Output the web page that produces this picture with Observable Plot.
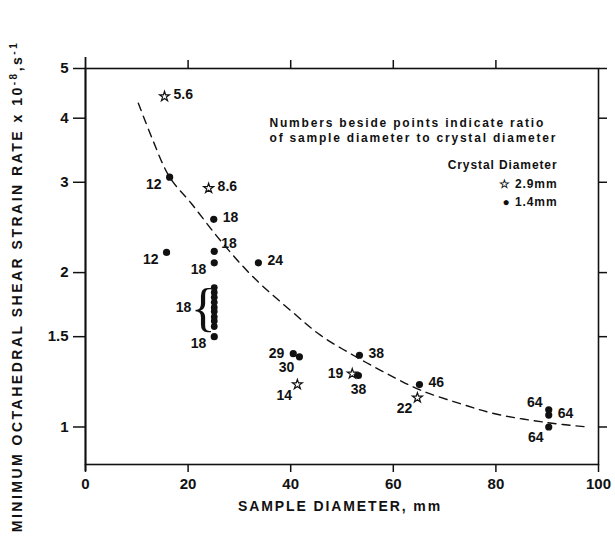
<!DOCTYPE html>
<html><head><meta charset="utf-8">
<script src="https://cdn.jsdelivr.net/npm/d3@7"></script>
<script src="https://cdn.jsdelivr.net/npm/@observablehq/plot@0.6"></script>
<style>
body{margin:0;background:#fff;}
svg{font-family:"Liberation Sans",Arial,sans-serif;}
</style>
</head><body><div id="chart"></div>
<script>
// ---- data ----
// crystal diameter 2.9 mm (open stars)
const starX = [15.4, 24.0, 41.3, 52.0, 64.7];
const starY = [4.41, 2.92, 1.21, 1.27, 1.14];
const starLabel = ["5.6", "8.6", "14", "19", "22"];
const starSide = ["r", "r", "bl", "l", "bl"];

// crystal diameter 1.4 mm (filled dots)
const dotX = [16.4, 25.0, 25.1, 15.8, 25.1, 33.7, 25.1, 40.5, 41.7, 53.4, 53.2, 65.1, 90.3, 90.3, 90.3];
const dotY = [3.07, 2.54, 2.20, 2.19, 2.09, 2.09, 1.50, 1.39, 1.37, 1.38, 1.26, 1.21, 1.08, 1.055, 1.00];
const dotLabel = ["12", "18", "18", "12", "18", "24", "18", "29", "30", "38", "38", "46", "64", "64", "64"];
const dotSide = ["lb", "r", "ru", "lb", "lb", "r", "lb", "l", "bl", "r", "b", "r", "tl", "r", "bl"];

// bracketed cluster of 1.4 mm samples (ratio 18)
const clusterX = 25.1;
const clusterY = [1.87, 1.83, 1.79, 1.75, 1.71, 1.68, 1.64, 1.61, 1.57];
const clusterLabel = "18";

// dashed fitted curve
const fitX = [10.3, 13.0, 16.4, 20.6, 26.3, 32.7, 40.5, 45.8, 52.2, 58.8, 65.3, 73.1, 80.0, 90.0, 97.9];
const fitY = [4.28, 3.65, 3.07, 2.73, 2.31, 1.96, 1.67, 1.51, 1.38, 1.27, 1.18, 1.11, 1.06, 1.02, 1.00];

// axes
const xTicks = [0, 20, 40, 60, 80, 100];
const xTopTicks = [20, 40, 60, 80];
const yTicks = [1, 1.5, 2, 3, 4, 5];
const xLabel = "SAMPLE DIAMETER, mm";
const yLabel = "MINIMUM OCTAHEDRAL SHEAR STRAIN RATE x 10-8,s-1";
const noteLines = ["Numbers beside points indicate ratio", "of sample diameter to crystal diameter"];
const legendTitle = "Crystal Diameter";
const legendItems = ["\u2606 2.9mm", "\u25CF 1.4mm"];

// ---- build tables ----
const stars = starX.map((x, i) => ({x, y: starY[i], label: starLabel[i], side: starSide[i]}));
const dots = dotX.map((x, i) => ({x, y: dotY[i], label: dotLabel[i], side: dotSide[i]}));
const cluster = clusterY.map(y => ({x: clusterX, y}));
const clusterMid = [{x: clusterX, y: Math.sqrt(d3.max(clusterY) * d3.min(clusterY))}];
const fit = fitX.map((x, i) => ({x, y: fitY[i]}));

const sideStyle = {
  r:  {dx: 9,   dy: -2, textAnchor: "start"},
  ru: {dx: 7,   dy: -8, textAnchor: "start"},
  l:  {dx: -9,  dy: 0,  textAnchor: "end"},
  lb: {dx: -8,  dy: 7,  textAnchor: "end"},
  bl: {dx: -13, dy: 11, textAnchor: "middle"},
  b:  {dx: 0,   dy: 14, textAnchor: "middle"},
  tl: {dx: -14, dy: -7, textAnchor: "middle"}
};
function labelMarks(data) {
  return Object.entries(sideStyle).map(([k, s]) =>
    Plot.text(data.filter(d => d.side === k), {
      x: "x", y: "y", text: "label", dx: s.dx, dy: s.dy, textAnchor: s.textAnchor,
      fontSize: 14, fontWeight: "bold", fill: "#111"
    }));
}
const noteStyle = {fontSize: 12, fontWeight: "bold", fill: "#111"};

const chart = Plot.plot({
  width: 615,
  height: 550,
  marginLeft: 85,
  marginRight: 17,
  marginTop: 68,
  marginBottom: 86,
  style: {fontFamily: "'Liberation Sans', Arial, sans-serif", fontWeight: "bold", background: "#fff", color: "#111"},
  x: {domain: [0, 100]},
  y: {type: "log", domain: [0.845, 5]},
  marks: [
    Plot.frame({stroke: "#111", strokeWidth: 1.6}),
    Plot.ruleX([0], {insetTop: -11, insetBottom: -7, stroke: "#111", strokeWidth: 1.8}),
    Plot.axisY({anchor: "left", ticks: yTicks, tickSize: 12, tickPadding: 5, tickFormat: d => String(d),
      fontSize: 15, fontWeight: "bold", label: null, strokeWidth: 1.5}),
    Plot.axisY({anchor: "right", ticks: yTicks, tickSize: 8, tickFormat: () => "", label: null, strokeWidth: 1.5}),
    Plot.axisX({anchor: "bottom", ticks: xTicks, tickSize: 8, tickPadding: 6, tickFormat: d => String(d),
      fontSize: 15, fontWeight: "bold", label: null, strokeWidth: 1.5}),
    Plot.axisX({anchor: "top", ticks: xTopTicks, tickSize: 9, tickFormat: () => "", label: null, strokeWidth: 1.5}),
    Plot.line(fit, {x: "x", y: "y", curve: "catmull-rom", stroke: "#111", strokeWidth: 1.4, strokeDasharray: "8,6"}),
    Plot.dot(dots, {x: "x", y: "y", r: 3.6, fill: "#111", stroke: "none"}),
    Plot.dot(cluster, {x: "x", y: "y", r: 3.4, fill: "#111", stroke: "none"}),
    Plot.dot(stars, {x: "x", y: "y", symbol: "star", r: 3.1, fill: "#fff", stroke: "#111", strokeWidth: 1.2}),
    ...labelMarks(stars),
    ...labelMarks(dots),
    Plot.text(clusterMid, {x: "x", y: "y", text: () => "{", dx: -11, dy: 1, fontSize: 52,
      fontFamily: "'Liberation Serif', serif", fontWeight: "normal", fill: "#111"}),
    Plot.text(clusterMid, {x: "x", y: "y", text: () => clusterLabel, dx: -23, textAnchor: "end",
      fontSize: 14, fontWeight: "bold", fill: "#111"}),
    Plot.text([noteLines[0]], {frameAnchor: "top-left", text: d => d, dx: 184, dy: 50, textAnchor: "start", ...noteStyle}),
    Plot.text([noteLines[1]], {frameAnchor: "top-left", text: d => d, dx: 184, dy: 65, textAnchor: "start", ...noteStyle}),
    Plot.text([legendTitle], {frameAnchor: "top-right", text: d => d, dx: -41, dy: 92, textAnchor: "end", ...noteStyle}),
    Plot.text([legendItems[0]], {frameAnchor: "top-right", text: d => d, dx: -41, dy: 111, textAnchor: "end", ...noteStyle}),
    Plot.text([legendItems[1]], {frameAnchor: "top-right", text: d => d, dx: -41, dy: 129, textAnchor: "end", ...noteStyle}),
    Plot.text([xLabel], {frameAnchor: "bottom", text: d => d, dx: -2, dy: 46, textAnchor: "middle",
      fontSize: 14, fontWeight: "bold", fill: "#111"}),
    Plot.text([yLabel], {frameAnchor: "left", text: d => d, dx: -68, dy: 20, rotate: -90, textAnchor: "middle",
      fontSize: 14, fontWeight: "bold", fill: "#111"})
  ]
});
document.getElementById("chart").append(chart);

// post-process: letter spacing and superscripts
const svg = d3.select(chart);
svg.selectAll("text").filter(function() { return this.textContent === xLabel; })
  .style("letter-spacing", "1.9px");
svg.selectAll("text").filter(function() { return noteLines.includes(this.textContent); })
  .style("letter-spacing", "1.8px");
svg.selectAll("text").filter(function() { return this.textContent === legendTitle || legendItems.includes(this.textContent); })
  .style("letter-spacing", "0.9px");
svg.selectAll("text").filter(function() { return this.textContent === yLabel; })
  .style("letter-spacing", "2.5px")
  .each(function() {
    const t = d3.select(this);
    t.text(null);
    t.append("tspan").text("MINIMUM OCTAHEDRAL SHEAR STRAIN RATE x 10");
    t.append("tspan").attr("baseline-shift", "super").attr("font-size", 10).text("-8");
    t.append("tspan").text(",s");
    t.append("tspan").attr("baseline-shift", "super").attr("font-size", 10).text("-1");
  });
</script>
</body></html>
